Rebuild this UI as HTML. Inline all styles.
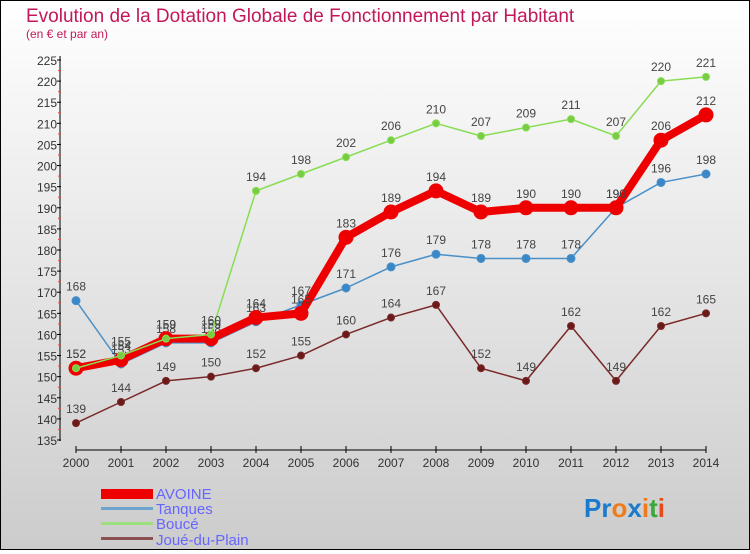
<!DOCTYPE html>
<html><head><meta charset="utf-8"><style>
body{margin:0;width:750px;height:550px;overflow:hidden;font-family:"Liberation Sans","DejaVu Sans",sans-serif}
#wrap{position:relative;width:748px;height:548px;border:1px solid #000;background:linear-gradient(#fff,#ccc)}
</style></head><body>
<div id="wrap">
<svg id="chart" width="748" height="548">
<text x="25" y="21" font-size="19" fill="#c2185b">Evolution de la Dotation Globale de Fonctionnement par Habitant</text>
<text x="25" y="37" font-size="12" fill="#c2185b">(en € et par an)</text>
<g id="axes"></g><g id="series"></g>
<g>
<rect x="100" y="488" width="52" height="10" fill="#e00"/>
<text x="155" y="498" font-size="15" fill="#66f">AVOINE</text>
<rect x="100" y="506" width="52" height="3" fill="#6fa3d0"/>
<text x="155" y="513" font-size="15" fill="#66f">Tanques</text>
<rect x="100" y="521" width="52" height="3" fill="#9be07a"/>
<text x="155" y="528" font-size="15" fill="#66f">Boucé</text>
<rect x="100" y="536" width="52" height="3" fill="#8b5050"/>
<text x="155" y="544" font-size="15" fill="#66f">Joué-du-Plain</text>
</g>
<text x="583" y="516" font-size="26" font-weight="bold"><tspan fill="#1a7acb">Pr</tspan><tspan fill="#f07b1a">o</tspan><tspan fill="#1a7acb">x</tspan><tspan fill="#f07b1a">i</tspan><tspan fill="#3aa83a">t</tspan><tspan fill="#e84a1a">i</tspan></text>
</svg></div>
<script>
const years=[2000,2001,2002,2003,2004,2005,2006,2007,2008,2009,2010,2011,2012,2013,2014];
const avoine=[152,154,159,159,164,165,183,189,194,189,190,190,190,206,212];
const tanques=[168,153,158,158,163,167,171,176,179,178,178,178,190,196,198];
const bouce=[152,155,159,160,194,198,202,206,210,207,209,211,207,220,221];
const joue=[139,144,149,150,152,155,160,164,167,152,149,162,149,162,165];
const yTicks=[135,140,145,150,155,160,165,170,175,180,185,190,195,200,205,210,215,220,225];
const NS="http://www.w3.org/2000/svg";
const X=i=>75+i*45, Y=v=>59+(225-v)*380/90;
function mk(t,a,p){const e=document.createElementNS(NS,t);for(const k in a)e.setAttribute(k,a[k]);p.appendChild(e);return e;}
const ax=document.getElementById('axes');
const yl=mk('line',{x1:59,y1:55,x2:59,y2:440,stroke:'#000'},ax);

const xl=mk('line',{x1:75,y1:449,x2:705,y2:449,stroke:'#000'},ax);

yTicks.forEach(v=>{
  mk('line',{x1:56,y1:Y(v),x2:60,y2:Y(v),stroke:'#000'},ax);
  if(v<225)mk('line',{x1:57,y1:Y(v+2.5),x2:60,y2:Y(v+2.5),stroke:'#e44'},ax);
  const t=mk('text',{x:56,y:Y(v)+5,'font-size':12,'text-anchor':'end',fill:'#333'},ax);t.textContent=v;
  
});
years.forEach((y,i)=>{
  mk('line',{x1:X(i),y1:445,x2:X(i),y2:452,stroke:'#000'},ax);
  const t=mk('text',{x:X(i),y:466,'font-size':12,'text-anchor':'middle',fill:'#333'},ax);t.textContent=y;
  
});
const sg=document.getElementById('series');
function draw(data,name,color,w,r,dot){
  const g=mk('g',{},sg);
  
  const pl=mk('polyline',{points:data.map((v,i)=>X(i)+','+Y(v)).join(' '),fill:'none',stroke:color,'stroke-width':w,'stroke-linejoin':'round'},g);
  
  data.forEach((v,i)=>{
    const c=mk('circle',{cx:X(i),cy:Y(v),r:r,fill:dot,stroke:color,'stroke-width':1},g);
    
    const t=mk('text',{x:X(i),y:Y(v)-10,'font-size':12,'text-anchor':'middle',fill:'#444'},g);t.textContent=v;
    
  });
}
draw(joue,'joue-du-plain','#7a2a2a',1.5,3.5,'#6b1a1a');
draw(tanques,'tanques','#4a90c8',1.5,4,'#3a88c8');
draw(avoine,'avoine','#ee0000',8,7,'#ee0000');
draw(bouce,'bouce','#88dd55',1.5,3.5,'#77cc44');
</script>
</body></html>
